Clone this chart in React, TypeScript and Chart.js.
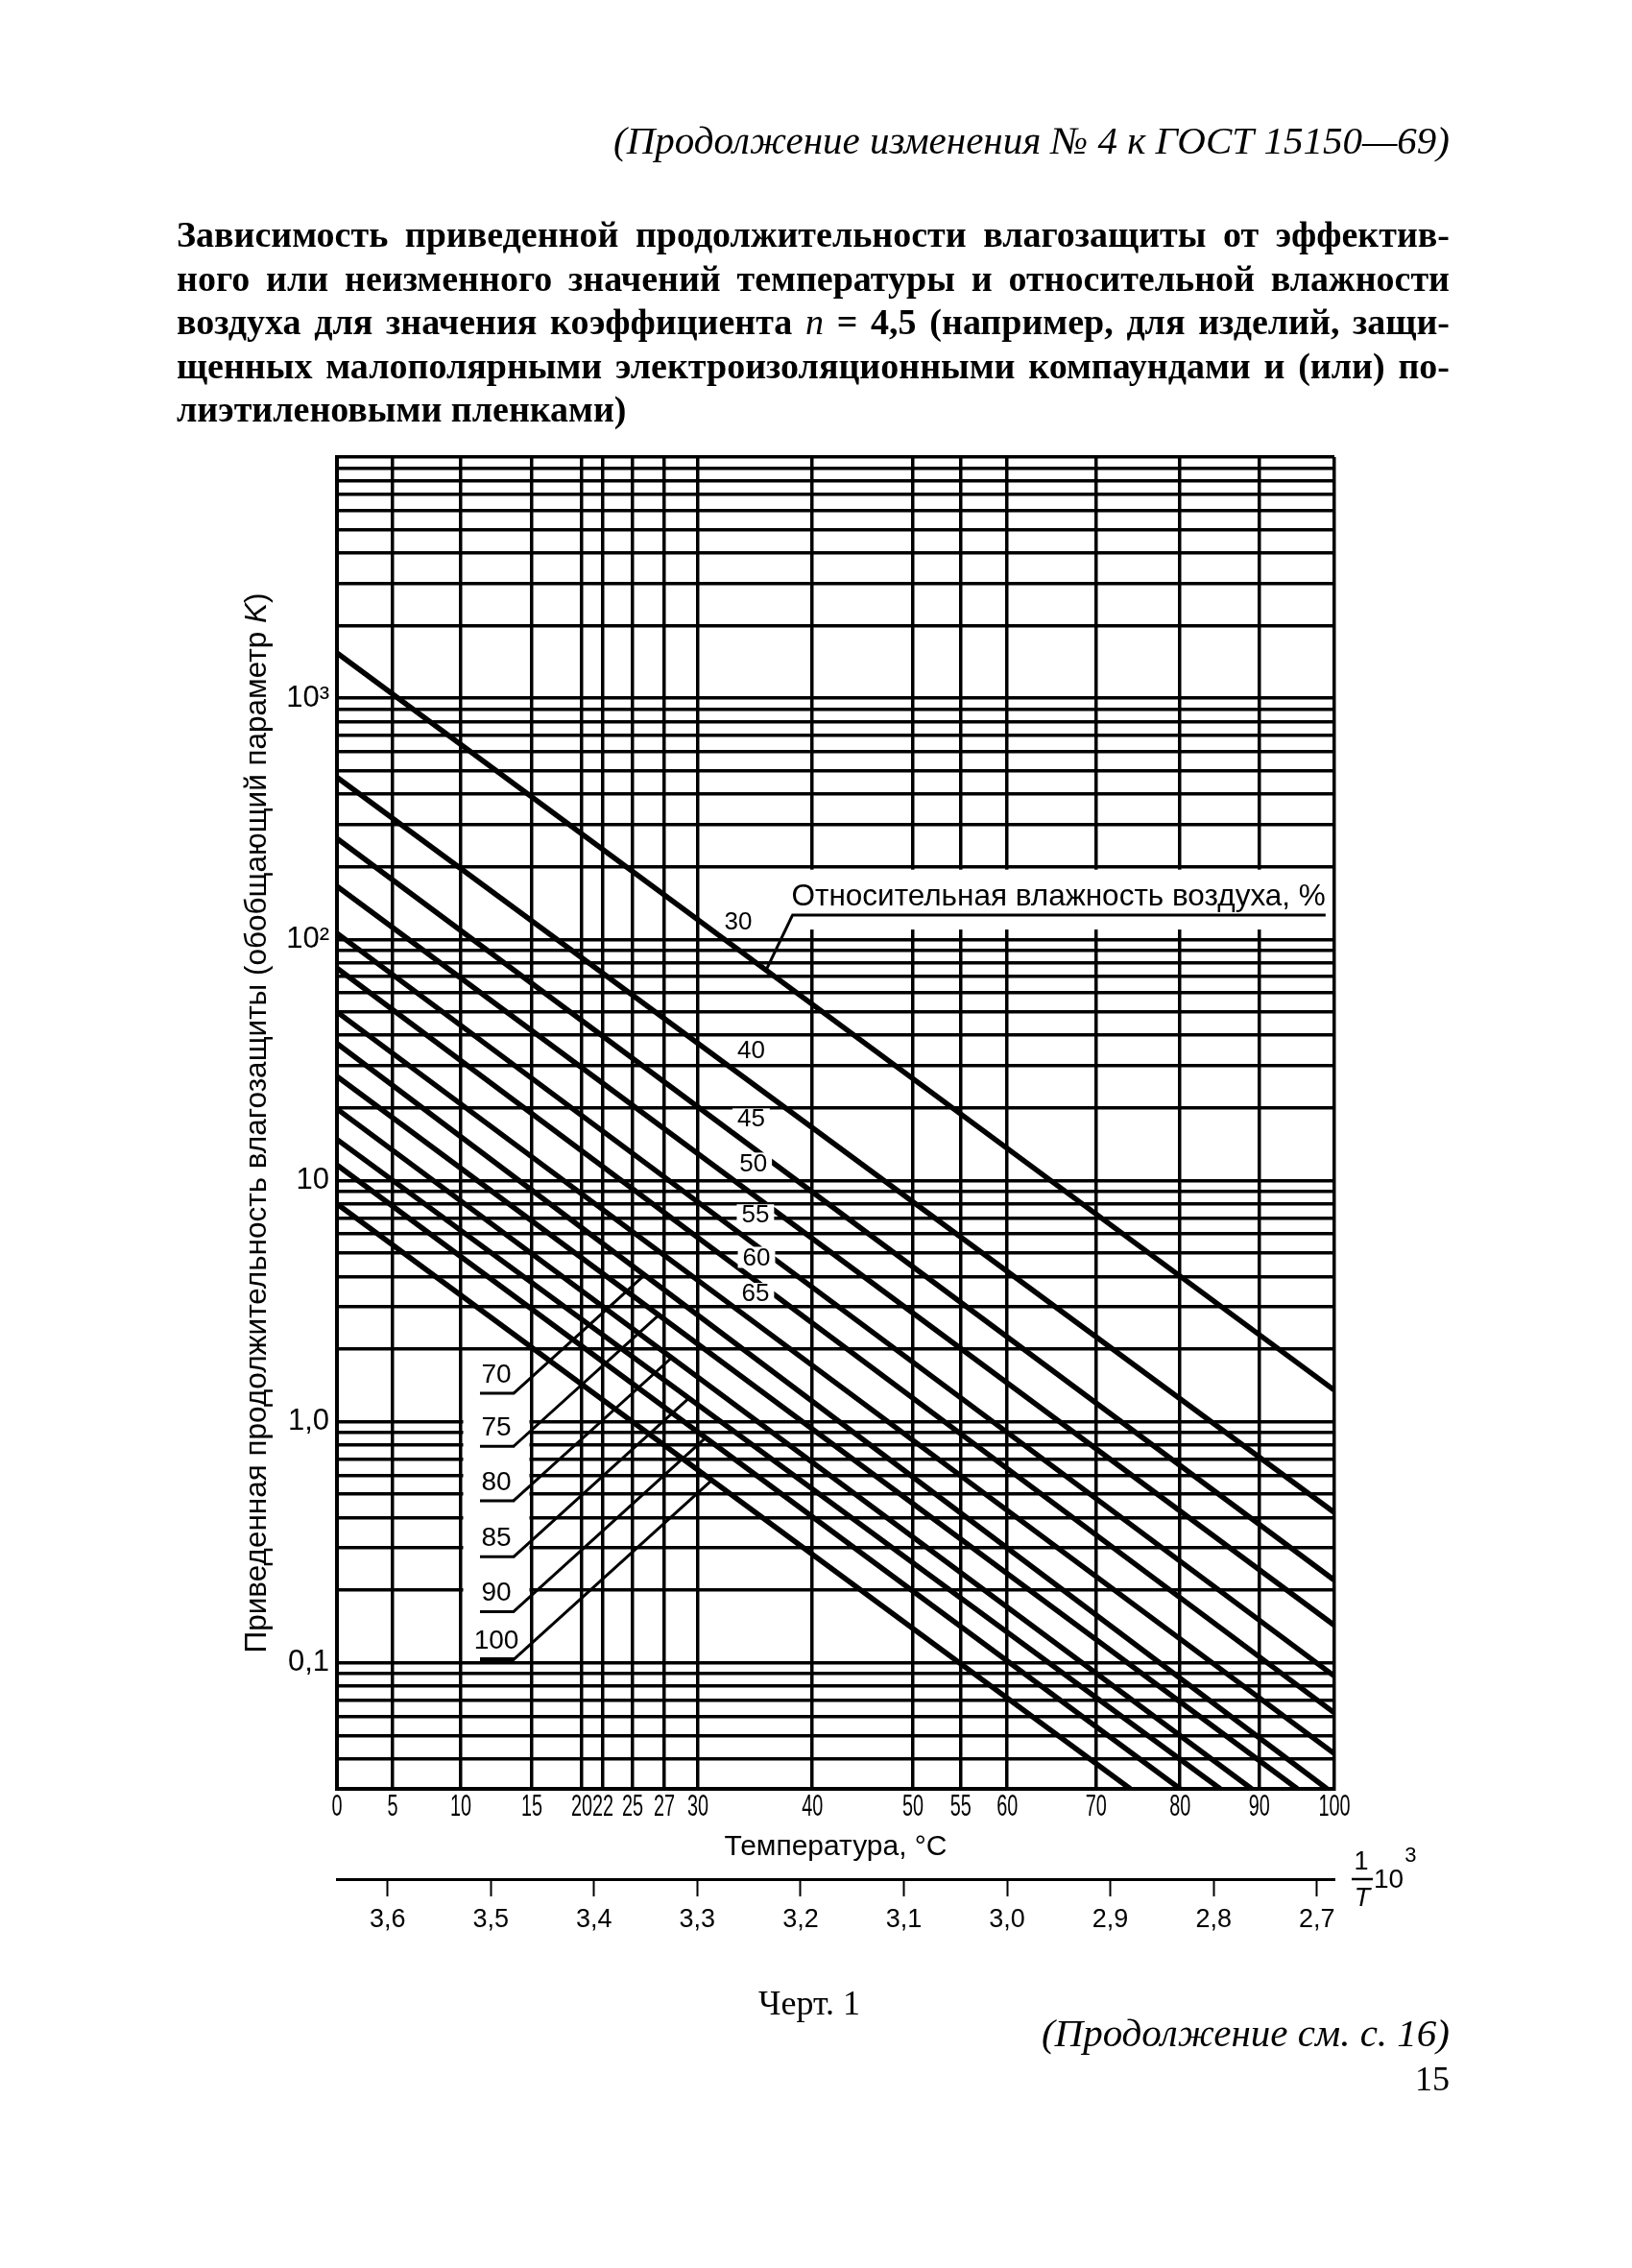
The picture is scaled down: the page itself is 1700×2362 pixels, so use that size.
import React, { useEffect, useRef } from "react";
import { Chart, registerables, LinearScale } from "chart.js";

// ---------------- data ----------------
const HUMIDITY_PCT = [30, 40, 45, 50, 55, 60, 65, 70, 75, 80, 85, 90, 100];
// K at 0 °C (left edge)
const K_AT_0C = [1540, 470, 262, 166, 106, 76, 50, 37, 27, 19.8, 14.8, 11.6, 8.0];
// where each line ends (right edge or bottom edge of the grid)
const END_TEMP_C = [100, 100, 100, 100, 100, 100, 100, 99, 95, 89, 85, 80, 74];
const K_AT_END = [1.35, 0.42, 0.22, 0.143, 0.088, 0.062, 0.042, 0.03, 0.03, 0.03, 0.03, 0.03, 0.03];

// temperature grid: labels and where each line is drawn on the 1/T·10³ axis
const TEMP_TICKS_C = [0, 5, 10, 15, 20, 22, 25, 27, 30, 40, 50, 55, 60, 70, 80, 90, 100];
const TEMP_TICK_INV_T = [
  3.661, 3.6062, 3.5392, 3.4693, 3.4202, 3.3994, 3.3702, 3.339, 3.306, 3.1934, 3.0945, 3.0474, 3.0017,
  2.9142, 2.8317, 2.7537, 2.6799,
];
const INV_T_TICKS = [3.6, 3.5, 3.4, 3.3, 3.2, 3.1, 3.0, 2.9, 2.8, 2.7];
const INV_T_AXIS_MIN = 2.683;
const INV_T_AXIS_MAX = 3.649;

const K_AXIS_MIN = 0.03;
const K_AXIS_MAX = 10000;
const K_GRID_MANTISSAS = [1, 2, 3, 4, 5, 6, 7, 8, 9];
const K_GRID_DECADES = [0.01, 0.1, 1, 10, 100, 1000, 10000];
const K_LABEL_VALUES = [1000, 100, 10, 1, 0.1];
const K_LABEL_TEXTS = ["10³", "10²", "10", "1,0", "0,1"];

// annotation placement (in data units)
const INLINE_LABEL_TEXTS = ["30", "40", "45", "50", "55", "60", "65"];
const INLINE_LABEL_TEMP_C = [33.0, 34.2, 34.2, 34.4, 34.6, 34.7, 34.6];
const INLINE_LABEL_K = [118, 34.6, 18.0, 11.8, 7.2, 4.8, 3.4];

const BOXED_LABEL_TEXTS = ["70", "75", "80", "85", "90", "100"];
const BOXED_LABEL_SERIES = [70, 75, 80, 85, 90, 100];
const BOXED_UNDERLINE_K = [1.31, 0.79, 0.47, 0.275, 0.163, 0.103];
const LABEL_BOX_TEMP_C = [10, 15];
const LABEL_BOX_K = [0.1, 2];
const LEADER_SLOPE = 0.91;

const LEGEND_TEXT = "Относительная влажность воздуха, %";
const LEGEND_LEFT_TEMP_C = 38.0;
const LEGEND_UNDERLINE_K = 126;
const LEGEND_BOX_TOP_K = 200;
const LEGEND_LEADER_TEMP_C = 35.6;

const Y_TITLE_MAIN = "Приведенная продолжительность влагозащиты (обобщающий параметр ";
const Y_TITLE_K = "K";
const Y_TITLE_END = ")";
const X_TITLE = "Температура, °C";

const TITLE_LINES = [
  "Зависимость приведенной продолжительности влагозащиты от эффектив-",
  "ного или неизменного значений температуры и относительной влажности",
  "__N__",
  "щенных малополярными электроизоляционными компаундами и (или) по-",
  "лиэтиленовыми пленками)",
];

// ---------------- styling ----------------
const FONT_SANS = "'Liberation Sans', Arial, Helvetica, sans-serif";
const FONT_SERIF = "'Liberation Serif', 'Times New Roman', serif";
const GRID_W = 3.5;
const LINE_W = 5.5;
const LABEL_CONDENSE = 0.64;

// linear scale whose tick labels are drawn horizontally condensed (narrow type as in the original)
class CondensedLinearScale extends (LinearScale as any) {
  static id = "condensedLinear";
  static defaults = (LinearScale as any).defaults;
  _computeLabelArea() {
    return undefined;
  }
  drawLabels(chartArea: any) {
    const self: any = this;
    const sx = LABEL_CONDENSE;
    const orig = self.getLabelItems;
    self.getLabelItems = function (ca: any) {
      return orig.call(self, ca).map((it: any) => ({
        ...it,
        options: {
          ...it.options,
          translation: [it.options.translation[0] / sx, it.options.translation[1]],
        },
      }));
    };
    const ctx = self.ctx;
    ctx.save();
    ctx.scale(sx, 1);
    super.drawLabels(chartArea);
    ctx.restore();
    self.getLabelItems = orig;
  }
}

Chart.register(...registerables, CondensedLinearScale as any);

const invT = (c: number) => 1000 / (c + 273.15);

const K_GRID_VALUES: number[] = [];
K_GRID_DECADES.forEach((d) =>
  K_GRID_MANTISSAS.forEach((m) => {
    const v = Number((m * d).toPrecision(6));
    if (v >= K_AXIS_MIN * 0.999 && v <= K_AXIS_MAX * 1.001) K_GRID_VALUES.push(v);
  })
);

const tempLabelFor = (v: number) => {
  let best = 0;
  TEMP_TICK_INV_T.forEach((t, i) => {
    if (Math.abs(t - v) < Math.abs(TEMP_TICK_INV_T[best] - v)) best = i;
  });
  return String(TEMP_TICKS_C[best]);
};

const annotationPlugin = {
  id: "gostAnnotations",
  afterDatasetsDraw(chart: any) {
    const { ctx, chartArea } = chart;
    const xs = chart.scales.x;
    const ys = chart.scales.y;
    const x2s = chart.scales.x2;
    const px = (c: number) => xs.getPixelForValue(invT(c));
    const gridX = (c: number) => xs.getPixelForValue(TEMP_TICK_INV_T[TEMP_TICKS_C.indexOf(c)]);
    const py = (k: number) => ys.getPixelForValue(k);
    const seg = (idx: number) => {
      const pts = chart.getDatasetMeta(idx).data;
      return { ax: pts[0].x, ay: pts[0].y, bx: pts[1].x, by: pts[1].y };
    };
    const yAt = (idx: number, x: number) => {
      const s = seg(idx);
      return s.ay + ((s.by - s.ay) * (x - s.ax)) / (s.bx - s.ax);
    };

    ctx.save();
    ctx.strokeStyle = "#000";
    ctx.lineCap = "butt";

    // white field holding the 70..100 labels
    const bl = gridX(LABEL_BOX_TEMP_C[0]) + 2.5;
    const br = gridX(LABEL_BOX_TEMP_C[1]) - 2.5;
    const bt = py(LABEL_BOX_K[1]) + 2.5;
    const bb = py(LABEL_BOX_K[0]) - 2.5;
    ctx.fillStyle = "#fff";
    ctx.fillRect(bl, bt, br - bl, bb - bt);

    // legend caption
    ctx.font = `31.5px ${FONT_SANS}`;
    const lx = px(LEGEND_LEFT_TEMP_C);
    const luy = py(LEGEND_UNDERLINE_K);
    const ltop = py(LEGEND_BOX_TOP_K) + 3;
    const ltw = ctx.measureText(LEGEND_TEXT).width;
    ctx.fillStyle = "#fff";
    ctx.fillRect(lx - 6, ltop, chartArea.right - 2.5 - (lx - 6), luy + 15 - ltop);
    ctx.fillStyle = "#000";
    ctx.textAlign = "left";
    ctx.textBaseline = "alphabetic";
    ctx.fillText(LEGEND_TEXT, lx, luy - 10);
    ctx.lineWidth = 3;
    ctx.beginPath();
    ctx.moveTo(lx, luy);
    ctx.lineTo(lx + ltw, luy);
    const leX = px(LEGEND_LEADER_TEMP_C);
    ctx.moveTo(lx + 1, luy);
    ctx.lineTo(leX, yAt(0, leX));
    ctx.stroke();

    // inline labels 30..65
    ctx.font = `26px ${FONT_SANS}`;
    ctx.textAlign = "center";
    ctx.textBaseline = "middle";
    INLINE_LABEL_TEXTS.forEach((t, i) => {
      const x = px(INLINE_LABEL_TEMP_C[i]);
      const y = py(INLINE_LABEL_K[i]);
      const w = ctx.measureText(t).width;
      ctx.fillStyle = "#fff";
      ctx.fillRect(x - w / 2 - 5, y - 11, w + 10, 22);
      ctx.fillStyle = "#000";
      ctx.fillText(t, x, y + 1);
    });

    // boxed labels 70..100 with leaders
    const cx = (gridX(LABEL_BOX_TEMP_C[0]) + gridX(LABEL_BOX_TEMP_C[1])) / 2;
    ctx.font = `28px ${FONT_SANS}`;
    BOXED_LABEL_TEXTS.forEach((t, j) => {
      const uy = py(BOXED_UNDERLINE_K[j]);
      ctx.fillStyle = "#000";
      ctx.fillText(t, cx, uy - 19);
      const ux0 = cx - 17;
      const ux1 = cx + 19;
      ctx.lineWidth = j === BOXED_LABEL_TEXTS.length - 1 ? 5 : 3;
      ctx.beginPath();
      ctx.moveTo(ux0, uy);
      ctx.lineTo(ux1, uy);
      ctx.stroke();
      const idx = HUMIDITY_PCT.indexOf(BOXED_LABEL_SERIES[j]);
      const s = seg(idx);
      const m = (s.by - s.ay) / (s.bx - s.ax);
      const xi = (uy + LEADER_SLOPE * ux1 - s.ay + m * s.ax) / (m + LEADER_SLOPE);
      const yi = uy - LEADER_SLOPE * (xi - ux1);
      ctx.lineWidth = 3;
      ctx.beginPath();
      ctx.moveTo(ux1 - 1, uy);
      ctx.lineTo(xi, yi);
      ctx.stroke();
    });

    // y-axis title (rotated, with italic K)
    ctx.save();
    ctx.translate(chartArea.left - 83, (chartArea.top + chartArea.bottom) / 2);
    ctx.rotate(-Math.PI / 2);
    const fN = `31.5px ${FONT_SANS}`;
    const fI = `italic 31.5px ${FONT_SANS}`;
    ctx.font = fN;
    const w1 = ctx.measureText(Y_TITLE_MAIN).width;
    const w3 = ctx.measureText(Y_TITLE_END).width;
    ctx.font = fI;
    const w2 = ctx.measureText(Y_TITLE_K).width;
    let sx = -(w1 + w2 + w3) / 2;
    ctx.textAlign = "left";
    ctx.textBaseline = "middle";
    ctx.fillStyle = "#000";
    ctx.font = fN;
    ctx.fillText(Y_TITLE_MAIN, sx, 0);
    sx += w1;
    ctx.font = fI;
    ctx.fillText(Y_TITLE_K, sx, 0);
    sx += w2;
    ctx.font = fN;
    ctx.fillText(Y_TITLE_END, sx, 0);
    ctx.restore();

    // 1/T ·10³ caption at the end of the lower axis
    const ay = x2s.top;
    const ax = chartArea.right;
    ctx.fillStyle = "#000";
    ctx.textAlign = "center";
    ctx.textBaseline = "middle";
    ctx.font = `27px ${FONT_SANS}`;
    ctx.fillText("1", ax + 28, ay - 17);
    ctx.font = `italic 27px ${FONT_SANS}`;
    ctx.fillText("T", ax + 29, ay + 20);
    ctx.lineWidth = 2.5;
    ctx.beginPath();
    ctx.moveTo(ax + 18, ay);
    ctx.lineTo(ax + 40, ay);
    ctx.stroke();
    ctx.textAlign = "left";
    ctx.font = `28px ${FONT_SANS}`;
    ctx.fillText("10", ax + 41, ay + 1);
    const w10 = ctx.measureText("10").width;
    ctx.font = `22px ${FONT_SANS}`;
    ctx.fillText("3", ax + 42 + w10, ay - 24);

    ctx.restore();
  },
};

export default function App() {
  const canvasRef = useRef<HTMLCanvasElement | null>(null);

  useEffect(() => {
    const canvas = canvasRef.current;
    if (!canvas) return;
    const datasets = HUMIDITY_PCT.map((h, i) => ({
      label: `${h} %`,
      data: [
        { x: invT(0), y: K_AT_0C[i] },
        { x: invT(END_TEMP_C[i]), y: K_AT_END[i] },
      ],
      borderColor: "#000",
      backgroundColor: "#000",
      borderWidth: LINE_W,
      pointRadius: 0,
      pointHoverRadius: 0,
      tension: 0,
      fill: false,
    }));

    const chart = new Chart(canvas, {
      type: "line",
      data: { datasets },
      options: {
        responsive: false,
        maintainAspectRatio: false,
        animation: false,
        devicePixelRatio: 1,
        events: [],
        layout: { padding: { left: 0, top: 476, right: 310, bottom: 2362 - 1863 - 94 - 70 } },
        plugins: {
          legend: { display: false },
          tooltip: { enabled: false },
          title: { display: false },
        },
        scales: {
          x: {
            type: "condensedLinear",
            axis: "x",
            position: "bottom",
            reverse: true,
            min: invT(100),
            max: invT(0),
            weight: 0,
            afterBuildTicks: (s: any) => {
              s.ticks = TEMP_TICK_INV_T.map((v) => ({ value: v }));
            },
            afterFit: (s: any) => {
              s.height = 94;
            },
            grid: { color: "#000", lineWidth: GRID_W, drawTicks: false },
            border: { display: true, color: "#000", width: 4 },
            ticks: {
              autoSkip: false,
              maxRotation: 0,
              minRotation: 0,
              padding: 1,
              color: "#000",
              font: { family: FONT_SANS, size: 31 },
              callback: (v: any) => tempLabelFor(Number(v)),
            },
            title: {
              display: true,
              text: X_TITLE,
              color: "#000",
              font: { family: FONT_SANS, size: 30 },
              padding: { top: 0, bottom: 15 },
            },
          },
          x2: {
            type: "linear",
            axis: "x",
            position: "bottom",
            reverse: true,
            min: INV_T_AXIS_MIN,
            max: INV_T_AXIS_MAX,
            weight: 1,
            afterBuildTicks: (s: any) => {
              s.ticks = INV_T_TICKS.map((v) => ({ value: v }));
            },
            afterFit: (s: any) => {
              s.height = 70;
            },
            grid: {
              drawOnChartArea: false,
              drawTicks: true,
              tickLength: 18,
              tickWidth: 2,
              tickColor: "#000",
              color: "#000",
            },
            border: { display: true, color: "#000", width: 3 },
            ticks: {
              autoSkip: false,
              maxRotation: 0,
              minRotation: 0,
              padding: 8,
              color: "#000",
              font: { family: FONT_SANS, size: 27 },
              callback: (v: any) => Number(v).toFixed(1).replace(".", ","),
            },
          },
          y: {
            type: "logarithmic",
            position: "left",
            min: K_AXIS_MIN,
            max: K_AXIS_MAX,
            afterBuildTicks: (s: any) => {
              s.ticks = K_GRID_VALUES.map((v) => ({ value: v }));
            },
            afterFit: (s: any) => {
              s.width = 351;
            },
            grid: { color: "#000", lineWidth: GRID_W, drawTicks: false },
            border: { display: true, color: "#000", width: 4 },
            ticks: {
              autoSkip: false,
              padding: 8,
              color: "#000",
              font: { family: FONT_SANS, size: 31 },
              callback: (v: any) => {
                const n = Number(v);
                const j = K_LABEL_VALUES.findIndex((lv) => Math.abs(lv - n) / lv < 1e-6);
                return j >= 0 ? K_LABEL_TEXTS[j] : "";
              },
            },
          },
        },
      } as any,
      plugins: [annotationPlugin],
    });
    return () => chart.destroy();
  }, []);

  const serifBold = `bold 38px ${FONT_SERIF}`;
  return (
    <div
      style={{
        position: "absolute",
        left: 0,
        top: 0,
        width: 1700,
        height: 2362,
        background: "#fff",
        overflow: "hidden",
        color: "#000",
      }}
    >
      <canvas
        ref={canvasRef}
        width={1700}
        height={2362}
        style={{ position: "absolute", left: 0, top: 0, width: 1700, height: 2362 }}
      />
      <div
        style={{
          position: "absolute",
          right: 190,
          top: 122,
          font: `italic 41px ${FONT_SERIF}`,
          lineHeight: "48px",
          whiteSpace: "nowrap",
        }}
      >
        (Продолжение изменения № 4 к ГОСТ 15150—69)
      </div>
      {TITLE_LINES.map((t, i) => (
        <div
          key={i}
          style={{
            position: "absolute",
            left: 184,
            width: 1326,
            top: 244 + 45.5 * i - 23,
            font: serifBold,
            lineHeight: "46px",
            textAlign: "justify",
            textAlignLast: i < TITLE_LINES.length - 1 ? "justify" : "left",
          }}
        >
          {t === "__N__" ? (
            <>
              воздуха для значения коэффициента <i style={{ fontWeight: "normal" }}>n</i> = 4,5 (например, для
              изделий, защи-
            </>
          ) : (
            t
          )}
        </div>
      ))}
      <div
        style={{
          position: "absolute",
          left: 843,
          top: 2086 - 22,
          transform: "translateX(-50%)",
          font: `36px ${FONT_SERIF}`,
          lineHeight: "44px",
          whiteSpace: "nowrap",
        }}
      >
        Черт. 1
      </div>
      <div
        style={{
          position: "absolute",
          right: 190,
          top: 2117 - 24,
          font: `italic 41px ${FONT_SERIF}`,
          lineHeight: "48px",
          whiteSpace: "nowrap",
        }}
      >
        (Продолжение см. с. 16)
      </div>
      <div
        style={{
          position: "absolute",
          right: 190,
          top: 2165 - 22,
          font: `36px ${FONT_SERIF}`,
          lineHeight: "44px",
          whiteSpace: "nowrap",
        }}
      >
        15
      </div>
    </div>
  );
}
